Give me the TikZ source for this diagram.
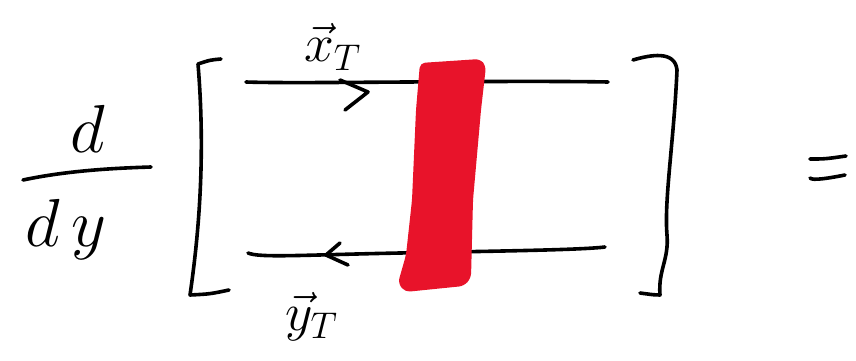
\documentclass[tikz,border=0pt]{standalone}
\usepackage{graphicx}
\usepackage{amsmath}
\definecolor{inkred}{RGB}{232,19,42}
\newcommand{\bigtxt}[1]{\scalebox{2.73}{\Huge #1}}
\newcommand{\lbltxt}[1]{\scalebox{2.15}{\Huge #1}}
\begin{document}
\begin{tikzpicture}[x=1pt,y=-1pt,
  ink/.style={line width=3.6pt,line cap=round,line join=round,black},
  big/.style={inner sep=0pt},
  lbl/.style={inner sep=0pt}]
\useasboundingbox (0,0) rectangle (856,361);
% fraction d/dy
\node[big,anchor=base] (num) at (88,152) {\bigtxt{$d$}};
\draw[ink] (23,180) coordinate (fa) .. controls (70,170) and (120,168) .. (151,167) coordinate (fb);
\node[big,anchor=base] (den) at (66,246) {\bigtxt{$d\,y$}};
% left bracket
\coordinate (lb1) at (221,59);
\coordinate (lb2) at (198,64);
\coordinate (lb3) at (190,295);
\coordinate (lb4) at (229,290);
\draw[ink] (lb1) .. controls (210,60) .. (lb2) .. controls (206,160) and (198,240) .. (lb3) .. controls (210,294) .. (lb4);
% top line with arrow
\coordinate (t1) at (246,82);
\coordinate (t2) at (608,82);
\draw[ink] (t1) .. controls (300,84) and (500,80) .. (t2);
\coordinate (ta) at (340,80);
\coordinate (tb) at (368,92);
\coordinate (tc) at (345,110);
\draw[ink] (ta) -- (tb) -- (tc);
% bottom line with arrow
\coordinate (b1) at (248,253);
\coordinate (b2) at (605,247);
\draw[ink] (b1) .. controls (260,258) and (300,255) .. (400,253) .. controls (500,251) and (580,250) .. (b2);
\coordinate (ba) at (340,243);
\coordinate (bb) at (326,255);
\coordinate (bc) at (348,265);
\draw[ink] (ba) -- (bb) -- (bc);
% red band
\fill[inkred,rounded corners=5pt] (420,63) -- (480,59) -- (486,66) -- (481,110) -- (473,200) -- (471,278) -- (464,286) -- (405,292) -- (398,283) -- (406,255) -- (412,200) -- (416,110) -- cycle;
% labels
\node[lbl,anchor=base west] (xl) at (304,62) {\lbltxt{$\vec{x}_{\scriptscriptstyle T}$}};
\node[lbl,anchor=base west] (yl) at (285,330) {\lbltxt{$\vec{y}_{\scriptscriptstyle T}$}};
% right bracket
\coordinate (rb1) at (633,60);
\coordinate (rb2) at (677,58);
\coordinate (rb3) at (660,295);
\coordinate (rb4) at (640,293);
\draw[ink] (rb1) .. controls (650,55) and (675,50) .. (677,70) .. controls (674,140) and (664,200) .. (667,235) .. controls (669,260) and (658,270) .. (rb3) .. controls (655,295) .. (rb4);
% equals
\coordinate (e1) at (810,159);
\coordinate (e2) at (846,156);
\coordinate (e3) at (810,178);
\coordinate (e4) at (845,175);
\draw[ink] (e1) .. controls (825,159) .. (e2);
\draw[ink] (e3) .. controls (812,181) and (830,178) .. (e4);
\end{tikzpicture}
\end{document}
